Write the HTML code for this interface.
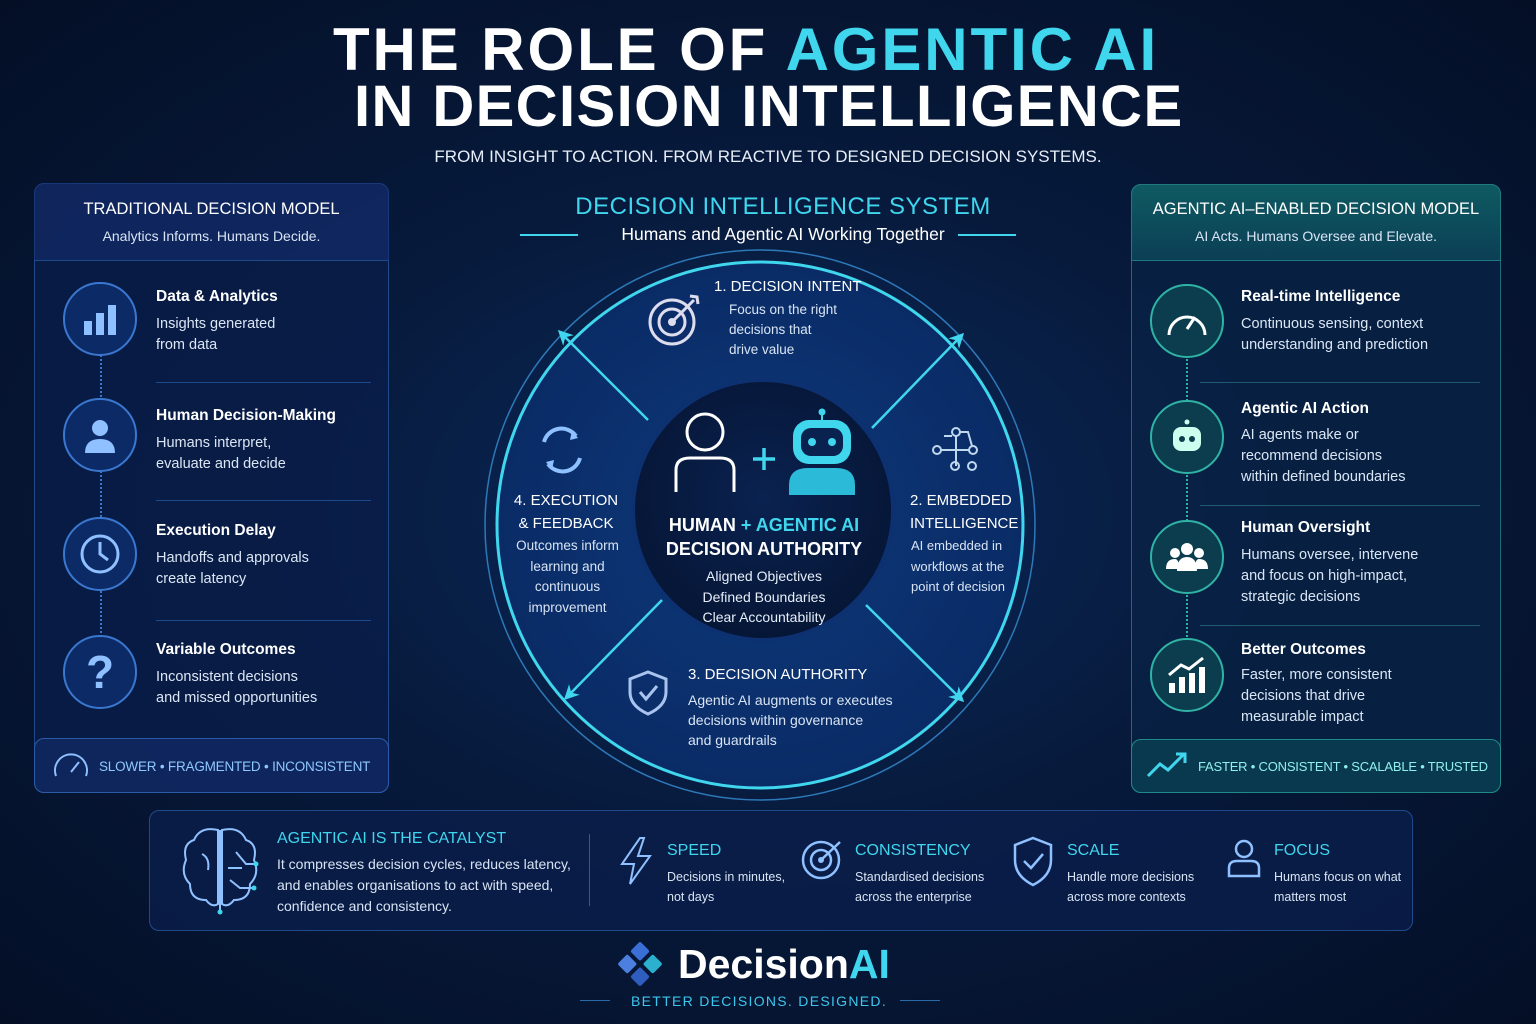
<!DOCTYPE html>
<html><head><meta charset="utf-8"><style>
*{margin:0;padding:0;box-sizing:border-box}
body{width:1536px;height:1024px;overflow:hidden;background:radial-gradient(ellipse at 50% 50%,#0b2a5c 0%,#071a3c 45%,#040f26 100%);font-family:"Liberation Sans",sans-serif;color:#fff;position:relative}
.a{position:absolute}
.t{font-weight:bold;line-height:1;white-space:nowrap}
.cy{color:#3fd6ee}
.panel{border:1px solid #1f4a8a;border-radius:10px;background:rgba(10,30,75,.75)}
.h{font-size:16.5px;text-align:center}
.s{font-size:14px;color:#d8e4f4;text-align:center}
.rt{font-size:15.5px;font-weight:bold}
.rd{font-size:14.5px;color:#dbe6f5;line-height:21px}
.ic{width:74px;height:74px;border-radius:50%;border:2px solid #3a78d0;background:#0c2a66;display:flex;align-items:center;justify-content:center}
.ic2{border-color:#2fb3a5;background:#0b3d4e}
.sep{height:1px;background:#1f4a8a}
.ct{font-size:14px;font-weight:bold}
.cd{font-size:13.5px;color:#d8e4f4;line-height:20px}
.bt{font-size:16px;color:#3fd6ee}
.bd{font-size:13px;color:#d8e4f4;line-height:20px}
</style></head><body>
<div class="a t" style="top:20px;left:333px;font-size:60px;letter-spacing:2.9px">THE ROLE OF <span class="cy">AGENTIC AI</span></div>
<div class="a t" style="top:78px;left:354px;font-size:58px;letter-spacing:1.4px">IN DECISION INTELLIGENCE</div>
<div class="a" style="top:147px;width:1536px;text-align:center;font-size:17px;color:#e8eef8">FROM INSIGHT TO ACTION. FROM REACTIVE TO DESIGNED DECISION SYSTEMS.</div>

<!-- left panel -->
<div class="a panel" style="left:34px;top:183px;width:355px;height:610px"></div>
<div class="a" style="left:34px;top:183px;width:355px;height:78px;border-bottom:1px solid #1f4a8a;background:rgba(20,45,110,.6);border-radius:10px 10px 0 0"></div>
<div class="a h" style="left:34px;top:200px;width:355px">TRADITIONAL DECISION MODEL</div>
<div class="a s" style="left:34px;top:228px;width:355px">Analytics Informs. Humans Decide.</div>
<div class="a" style="left:100px;top:340px;height:300px;border-left:2px dotted #3a78d0"></div>
<div class="a ic" style="left:63px;top:282px"><svg width="40" height="40"><rect x="4" y="22" width="8" height="14" fill="#8fc0ff"/><rect x="16" y="14" width="8" height="22" fill="#8fc0ff"/><rect x="28" y="6" width="8" height="30" fill="#8fc0ff"/></svg></div>
<div class="a rt" style="left:156px;top:288px">Data &amp; Analytics</div>
<div class="a rd" style="left:156px;top:314px">Insights generated<br>from data</div>
<div class="a sep" style="left:156px;top:382px;width:215px"></div>
<div class="a ic" style="left:63px;top:398px"><svg width="40" height="40"><circle cx="20" cy="13" r="8" fill="#8fc0ff"/><path d="M5 38 Q5 24 20 24 Q35 24 35 38Z" fill="#8fc0ff"/></svg></div>
<div class="a rt" style="left:156px;top:407px">Human Decision-Making</div>
<div class="a rd" style="left:156px;top:433px">Humans interpret,<br>evaluate and decide</div>
<div class="a sep" style="left:156px;top:500px;width:215px"></div>
<div class="a ic" style="left:63px;top:517px"><svg width="44" height="44"><circle cx="22" cy="22" r="18" fill="none" stroke="#8fc0ff" stroke-width="3"/><path d="M22 10V22L30 28" fill="none" stroke="#8fc0ff" stroke-width="3"/></svg></div>
<div class="a rt" style="left:156px;top:522px">Execution Delay</div>
<div class="a rd" style="left:156px;top:548px">Handoffs and approvals<br>create latency</div>
<div class="a sep" style="left:156px;top:620px;width:215px"></div>
<div class="a ic" style="left:63px;top:635px;font-size:46px;color:#8fc0ff;font-weight:bold">?</div>
<div class="a rt" style="left:156px;top:641px">Variable Outcomes</div>
<div class="a rd" style="left:156px;top:667px">Inconsistent decisions<br>and missed opportunities</div>
<div class="a" style="left:34px;top:738px;width:355px;height:55px;border:1px solid #2a5aa8;border-radius:10px;background:rgba(15,40,95,.9)"></div>
<div class="a" style="left:52px;top:750px"><svg width="38" height="30"><path d="M4 26 A16 16 0 1 1 34 26" fill="none" stroke="#8fc0ff" stroke-width="2"/><path d="M19 22 L27 12" stroke="#8fc0ff" stroke-width="2"/></svg></div>
<div class="a" style="left:99px;top:759px;font-size:13.5px;color:#8fc8ff;letter-spacing:-0.2px">SLOWER • FRAGMENTED • INCONSISTENT</div>

<!-- right panel -->
<div class="a panel" style="left:1131px;top:184px;width:370px;height:609px;border-color:#1f6a7a;background:rgba(8,35,70,.75)"></div>
<div class="a" style="left:1131px;top:184px;width:370px;height:77px;background:linear-gradient(#0f5a62,#0b3f55);border-radius:10px 10px 0 0;border:1px solid #1f7a80"></div>
<div class="a h" style="left:1131px;top:200px;width:370px">AGENTIC AI–ENABLED DECISION MODEL</div>
<div class="a s" style="left:1131px;top:228px;width:370px">AI Acts. Humans Oversee and Elevate.</div>
<div class="a" style="left:1186px;top:340px;height:300px;border-left:2px dotted #2fb3a5"></div>
<div class="a ic ic2" style="left:1150px;top:284px"><svg width="44" height="40"><path d="M4 34 A18 18 0 1 1 40 34" fill="none" stroke="#fff" stroke-width="3"/><path d="M22 28 L30 16" stroke="#fff" stroke-width="3"/></svg></div>
<div class="a rt" style="left:1241px;top:288px">Real-time Intelligence</div>
<div class="a rd" style="left:1241px;top:314px">Continuous sensing, context<br>understanding and prediction</div>
<div class="a sep" style="left:1200px;top:382px;width:280px;background:#1f5a70"></div>
<div class="a ic ic2" style="left:1150px;top:400px"><svg width="40" height="40"><rect x="6" y="10" width="28" height="24" rx="8" fill="#cfe"/><circle cx="15" cy="22" r="3" fill="#0b3d4e"/><circle cx="25" cy="22" r="3" fill="#0b3d4e"/><circle cx="20" cy="5" r="2.5" fill="#cfe"/></svg></div>
<div class="a rt" style="left:1241px;top:400px">Agentic AI Action</div>
<div class="a rd" style="left:1241px;top:425px">AI agents make or<br>recommend decisions<br>within defined boundaries</div>
<div class="a sep" style="left:1200px;top:505px;width:280px;background:#1f5a70"></div>
<div class="a ic ic2" style="left:1150px;top:520px"><svg width="44" height="40"><circle cx="22" cy="12" r="6" fill="#fff"/><circle cx="10" cy="16" r="5" fill="#fff"/><circle cx="34" cy="16" r="5" fill="#fff"/><path d="M12 34 Q12 20 22 20 Q32 20 32 34Z" fill="#fff"/><path d="M1 32 Q1 22 10 22 Q14 22 14 32Z M43 32 Q43 22 34 22 Q30 22 30 32Z" fill="#fff"/></svg></div>
<div class="a rt" style="left:1241px;top:519px">Human Oversight</div>
<div class="a rd" style="left:1241px;top:545px">Humans oversee, intervene<br>and focus on high-impact,<br>strategic decisions</div>
<div class="a sep" style="left:1200px;top:625px;width:280px;background:#1f5a70"></div>
<div class="a ic ic2" style="left:1150px;top:638px"><svg width="44" height="40"><rect x="4" y="28" width="6" height="10" fill="#fff"/><rect x="14" y="22" width="6" height="16" fill="#fff"/><rect x="24" y="18" width="6" height="20" fill="#fff"/><rect x="34" y="12" width="6" height="26" fill="#fff"/><path d="M4 20 L16 10 L24 14 L38 3" fill="none" stroke="#fff" stroke-width="3"/></svg></div>
<div class="a rt" style="left:1241px;top:641px">Better Outcomes</div>
<div class="a rd" style="left:1241px;top:665px">Faster, more consistent<br>decisions that drive<br>measurable impact</div>
<div class="a" style="left:1131px;top:739px;width:370px;height:54px;border:1px solid #1f8a8a;border-radius:10px;background:rgba(10,60,80,.9)"></div>
<div class="a" style="left:1146px;top:750px"><svg width="44" height="30"><path d="M2 26 L14 14 L22 20 L38 4" fill="none" stroke="#3fd6ee" stroke-width="3"/><path d="M30 4 H39 V13" fill="none" stroke="#3fd6ee" stroke-width="3"/></svg></div>
<div class="a" style="left:1198px;top:759px;font-size:13px;color:#8ff0ee;letter-spacing:-0.2px">FASTER • CONSISTENT • SCALABLE • TRUSTED</div>

<!-- center -->
<div class="a" style="left:0;top:193px;width:1536px;text-align:center;font-size:24px;color:#3fd6ee;letter-spacing:0.5px;padding-left:30px">DECISION INTELLIGENCE SYSTEM</div>
<div class="a" style="left:0;top:224px;width:1536px;text-align:center;font-size:17.5px;color:#fff;padding-left:30px">Humans and Agentic AI Working Together</div>
<div class="a" style="left:520px;top:234px;width:58px;height:2px;background:#3fd6ee"></div>
<div class="a" style="left:958px;top:234px;width:58px;height:2px;background:#3fd6ee"></div>
<svg class="a" style="left:0;top:0" width="1536" height="1024">
<defs><radialGradient id="g1" cx="50%" cy="50%" r="50%"><stop offset="0" stop-color="#0d3a7a"/><stop offset="1" stop-color="#0a2b66"/></radialGradient>
<radialGradient id="g2" cx="50%" cy="45%" r="55%"><stop offset="0" stop-color="#0a2250"/><stop offset="1" stop-color="#061636"/></radialGradient>
<marker id="ar" viewBox="0 0 10 10" refX="8" refY="5" markerWidth="6" markerHeight="6" orient="auto"><path d="M0 0 L10 5 L0 10 L3 5Z" fill="#3fd6ee"/></marker></defs>
<circle cx="760" cy="525" r="275" fill="none" stroke="#2d78b8" stroke-width="1.5"/>
<circle cx="760" cy="525" r="263" fill="url(#g1)" stroke="#3fd6ee" stroke-width="3"/>
<g stroke="#3fd6ee" stroke-width="2.5" marker-end="url(#ar)">
<line x1="648" y1="420" x2="560" y2="332"/>
<line x1="872" y1="428" x2="962" y2="335"/>
<line x1="866" y1="605" x2="962" y2="700"/>
<line x1="662" y1="600" x2="566" y2="698"/>
</g>
<circle cx="763" cy="510" r="130" fill="url(#g2)" stroke="#0c3070" stroke-width="4"/>
<circle cx="705" cy="432" r="18" fill="none" stroke="#fff" stroke-width="3"/>
<path d="M676 492 V470 Q676 458 690 458 H720 Q734 458 734 470 V492" fill="none" stroke="#fff" stroke-width="3"/>
<path d="M764 448 V470 M753 459 H775" stroke="#3fd6ee" stroke-width="3.5"/>
<circle cx="822" cy="412" r="3.5" fill="#3fd6ee"/><line x1="822" y1="414" x2="822" y2="420" stroke="#3fd6ee" stroke-width="2"/>
<rect x="793" y="420" width="58" height="44" rx="16" fill="#3fd6ee"/>
<rect x="801" y="428" width="42" height="28" rx="10" fill="#0a2250"/>
<circle cx="812" cy="442" r="4" fill="#3fd6ee"/><circle cx="832" cy="442" r="4" fill="#3fd6ee"/>
<path d="M789 495 V485 Q789 468 808 468 H836 Q855 468 855 485 V495Z" fill="#2bbbd8"/>
<circle cx="672" cy="322" r="22" fill="none" stroke="#dde" stroke-width="3"/><circle cx="672" cy="322" r="13" fill="none" stroke="#dde" stroke-width="3"/><circle cx="672" cy="322" r="4" fill="#dde"/><path d="M672 322 L694 300 M690 296 L697 297 L698 304" stroke="#dde" stroke-width="3" fill="none"/>
<path d="M544 442 A18 18 0 0 1 576 436 M580 458 A18 18 0 0 1 548 464" fill="none" stroke="#8fc0ff" stroke-width="4"/>
<path d="M572 430 L578 438 L570 440Z M552 470 L546 462 L554 460Z" fill="#8fc0ff"/>
<g stroke="#c0d8ee" stroke-width="2" fill="none"><circle cx="956" cy="432" r="4"/><circle cx="937" cy="450" r="4"/><circle cx="973" cy="450" r="4"/><circle cx="955" cy="466" r="4"/><circle cx="972" cy="466" r="4"/><path d="M941 450 H969 M956 436 V466 M944 436 H952 M960 432 H968 L972 446"/></g>
<path d="M648 672 L666 679 V692 Q666 706 648 714 Q630 706 630 692 V679Z" fill="none" stroke="#a8c4ee" stroke-width="3"/><path d="M640 692 L646 699 L657 686" fill="none" stroke="#a8c4ee" stroke-width="3"/>
</svg>
<div class="a ct" style="left:714px;top:278px;font-weight:normal;font-size:15px">1. DECISION INTENT</div>
<div class="a cd" style="left:729px;top:300px">Focus on the right<br>decisions that<br>drive value</div>
<div class="a ct" style="left:500px;top:489px;width:132px;text-align:center;line-height:23px;font-weight:normal;font-size:15px">4. EXECUTION<br>&amp; FEEDBACK</div>
<div class="a cd" style="left:500px;top:536px;width:135px;text-align:center;line-height:20.5px">Outcomes inform<br>learning and<br>continuous<br>improvement</div>
<div class="a ct" style="left:910px;top:489px;line-height:23px;font-weight:normal;font-size:15px">2. EMBEDDED<br>INTELLIGENCE</div>
<div class="a cd" style="left:911px;top:536px;font-size:13px;line-height:20.5px">AI embedded in<br>workflows at the<br>point of decision</div>
<div class="a" style="left:633px;top:513px;width:262px;text-align:center;font-size:18px;font-weight:bold;line-height:24px">HUMAN <span class="cy">+ AGENTIC AI</span><br>DECISION AUTHORITY</div>
<div class="a" style="left:633px;top:566px;width:262px;text-align:center;font-size:14px;line-height:20.5px;color:#e6eef8">Aligned Objectives<br>Defined Boundaries<br>Clear Accountability</div>
<div class="a ct" style="left:688px;top:666px;font-weight:normal;font-size:15px">3. DECISION AUTHORITY</div>
<div class="a cd" style="left:688px;top:690px;font-size:14px">Agentic AI augments or executes<br>decisions within governance<br>and guardrails</div>

<!-- bottom -->
<div class="a" style="left:149px;top:810px;width:1264px;height:121px;border:1px solid #1f4a8a;border-radius:10px;background:rgba(10,30,75,.8)"></div>
<svg class="a" style="left:180px;top:824px" width="80" height="92"><g fill="none" stroke="#8fc0ff" stroke-width="2"><path d="M38 6 Q20 2 14 16 Q2 20 6 36 Q0 50 10 60 Q10 76 26 76 Q32 84 38 80Z"/><path d="M42 6 Q60 2 66 16 Q78 20 74 36 Q80 50 70 60 Q70 76 54 76 Q48 84 42 80Z"/><path d="M40 6 V80 M22 30 Q30 34 28 46 M56 28 L66 40 L76 40 M50 56 L60 64 L74 64 M48 44 H62 M40 80 V88"/></g><circle cx="76" cy="40" r="2.5" fill="#3fd6ee"/><circle cx="74" cy="64" r="2.5" fill="#3fd6ee"/><circle cx="40" cy="88" r="2.5" fill="#3fd6ee"/></svg>
<div class="a bt" style="left:277px;top:830px">AGENTIC AI IS THE CATALYST</div>
<div class="a" style="left:277px;top:854px;font-size:14px;color:#d8e4f4;line-height:21px">It compresses decision cycles, reduces latency,<br>and enables organisations to act with speed,<br>confidence and consistency.</div>
<div class="a" style="left:589px;top:834px;width:1px;height:72px;background:#2a5aa8"></div>
<svg class="a" style="left:618px;top:836px" width="36" height="50"><path d="M22 2 L4 28 H16 L12 48 L32 20 H20 L26 2Z" fill="none" stroke="#8fc0ff" stroke-width="2"/></svg>
<div class="a bt" style="left:667px;top:842px">SPEED</div>
<div class="a bd" style="left:667px;top:867px;font-size:12.5px">Decisions in minutes,<br>not days</div>
<svg class="a" style="left:800px;top:837px" width="46" height="46"><circle cx="21" cy="23" r="18" fill="none" stroke="#8fc0ff" stroke-width="2.5"/><circle cx="21" cy="23" r="10" fill="none" stroke="#8fc0ff" stroke-width="2.5"/><circle cx="21" cy="23" r="3" fill="#8fc0ff"/><path d="M21 23 L40 5" stroke="#8fc0ff" stroke-width="2.5"/></svg>
<div class="a bt" style="left:855px;top:842px">CONSISTENCY</div>
<div class="a bd" style="left:855px;top:867px;font-size:12.5px">Standardised decisions<br>across the enterprise</div>
<svg class="a" style="left:1012px;top:836px" width="42" height="52"><path d="M21 2 L39 9 V24 Q39 40 21 49 Q3 40 3 24 V9Z" fill="none" stroke="#8fc0ff" stroke-width="2.5"/><path d="M12 25 L19 32 L31 18" fill="none" stroke="#8fc0ff" stroke-width="2.5"/></svg>
<div class="a bt" style="left:1067px;top:842px">SCALE</div>
<div class="a bd" style="left:1067px;top:867px;font-size:12.5px">Handle more decisions<br>across more contexts</div>
<svg class="a" style="left:1226px;top:838px" width="36" height="42"><circle cx="18" cy="11" r="8" fill="none" stroke="#8fc0ff" stroke-width="2.5"/><path d="M3 38 V30 Q3 23 11 23 H25 Q33 23 33 30 V38Z" fill="none" stroke="#8fc0ff" stroke-width="2.5"/></svg>
<div class="a bt" style="left:1274px;top:842px">FOCUS</div>
<div class="a bd" style="left:1274px;top:867px;font-size:12.5px">Humans focus on what<br>matters most</div>

<!-- logo -->
<svg class="a" style="left:612px;top:938px" width="56" height="52"><g transform="rotate(45 28 26)"><rect x="12" y="10" width="14" height="14" rx="2" fill="#3a6fd8"/><rect x="30" y="10" width="14" height="14" rx="2" fill="#2bb0d0"/><rect x="12" y="28" width="14" height="14" rx="2" fill="#4d7fe0"/><rect x="30" y="28" width="14" height="14" rx="2" fill="#2f5ec0"/></g></svg>
<div class="a" style="left:678px;top:940px;font-size:41px;font-weight:bold;line-height:48px">Decision<span class="cy">AI</span></div>
<div class="a" style="left:580px;top:1000px;width:30px;height:1px;background:#2a6aa8"></div>
<div class="a" style="left:900px;top:1000px;width:40px;height:1px;background:#2a6aa8"></div>
<div class="a" style="left:631px;top:993px;font-size:14px;letter-spacing:1.3px;color:#3fc6ee">BETTER DECISIONS. DESIGNED.</div>
</body></html>
